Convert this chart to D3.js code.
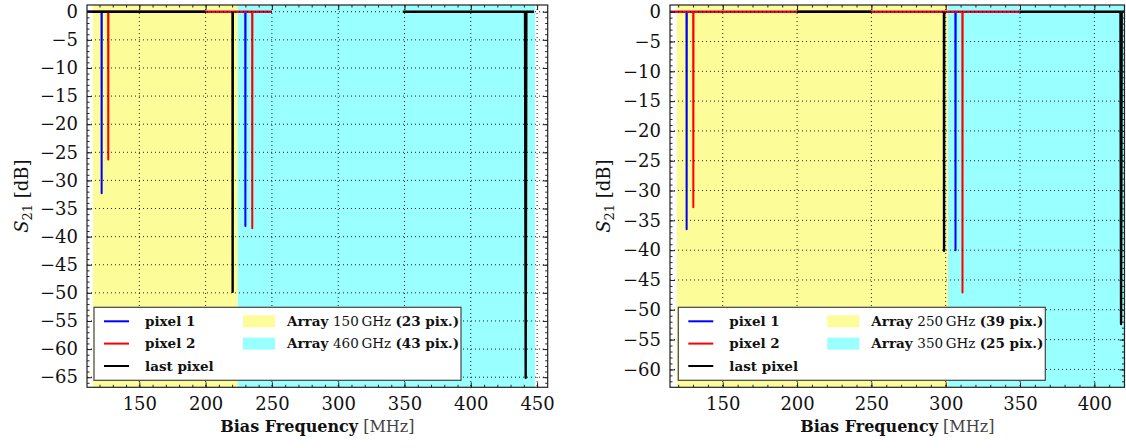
<!DOCTYPE html>
<html>
<head>
<meta charset="utf-8">
<script src="https://cdn.jsdelivr.net/npm/d3@7"></script>
<style>
  body { margin: 0; background: #fff; }
  svg { display: block; }
  text { font-family: "DejaVu Serif", serif; fill: #111; }
</style>
</head>
<body>
<svg width="1126" height="448"></svg>
<script>
// ---- data: left panel (150 GHz / 460 GHz arrays) ----
var leftXTicks = [150, 200, 250, 300, 350, 400, 450];
var leftYTicks = [0, -5, -10, -15, -20, -25, -30, -35, -40, -45, -50, -55, -60, -65];
var leftBands = [[115.1, 224.2], [224.2, 448.4]];
var leftPixel1 = [[108, 0], [121.5, 0], [121.6, -32.3], [121.7, 0], [229.9, 0], [230.0, -38.1], [230.1, 0], [250, 0]];
var leftPixel2 = [[108, 0], [126.5, 0], [126.6, -26.3], [126.7, 0], [235.1, 0], [235.2, -38.5], [235.3, 0], [250, 0]];
var leftLast = [[108, 0], [200, 0], null, [220.3, 0], [220.4, -49.8], [220.5, 0], null,
                [348.7, 0], [440.9, 0], [441.4, -65.1], [441.9, 0], [447.7, 0]];
var leftArrays = [["150", "23"], ["460", "43"]];

// ---- data: right panel (250 GHz / 350 GHz arrays) ----
var rightXTicks = [150, 200, 250, 300, 350, 400];
var rightYTicks = [0, -5, -10, -15, -20, -25, -30, -35, -40, -45, -50, -55, -60];
var rightBands = [[119.0, 301.5], [301.5, 425]];
var rightPixel1 = [[112, 0], [125.6, 0], [125.7, -36.5], [125.8, 0], [306.5, 0], [306.6, -40.0], [306.7, 0], [350, 0]];
var rightPixel2 = [[112, 0], [130.1, 0], [130.2, -32.8], [130.3, 0], [311.2, 0], [311.3, -47.1], [311.4, 0], [350, 0]];
var rightLast = [[200, 0], [250, 0], null, [298.8, 0], [298.9, -40.1], [299.0, 0], null,
                 [350, 0], [417.6, 0], [418.0, -52.4], [418.4, 0], [425, 0]];
var rightArrays = [["250", "39"], ["350", "25"]];

var pixelNames = ["pixel 1", "pixel 2", "last pixel"];
var pixelColors = ["#0000ff", "#ff0000", "#000000"];
var bandColors = ["#fcfc99", "#99ffff"];

var svg = d3.select("svg");

drawPanel({
    id: "l", left: 87, right: 547.7, top: 5, bottom: 387.3,
    xDomain: [110.55, 458.0], yDomain: [-66.8, 1.2],
    xTicks: leftXTicks, yTicks: leftYTicks, bands: leftBands,
    series: [leftPixel1, leftPixel2, leftLast], arrays: leftArrays,
    legendX: 94, legendY: 307.3, ylabelX: 28
});
drawPanel({
    id: "r", left: 670, right: 1124.5, top: 5, bottom: 387.3,
    xDomain: [114.5, 420.3], yDomain: [-63.0, 1.12],
    xTicks: rightXTicks, yTicks: rightYTicks, bands: rightBands,
    series: [rightPixel1, rightPixel2, rightLast], arrays: rightArrays,
    legendX: 678.3, legendY: 307.3, ylabelX: 610
});

function drawPanel(p) {
    var x = d3.scaleLinear().domain(p.xDomain).range([p.left, p.right]);
    var y = d3.scaleLinear().domain(p.yDomain).range([p.bottom, p.top]);
    var g = svg.append("g");

    svg.append("clipPath").attr("id", "clip-" + p.id)
        .append("rect")
        .attr("x", p.left).attr("y", p.top)
        .attr("width", p.right - p.left).attr("height", p.bottom - p.top);

    var plot = g.append("g").attr("clip-path", "url(#clip-" + p.id + ")");

    // shaded array regions
    plot.selectAll("rect.band")
        .data(p.bands)
        .enter()
        .append("rect")
        .attr("x", function(d){ return x(d[0]); })
        .attr("y", p.top)
        .attr("width", function(d){ return x(d[1]) - x(d[0]); })
        .attr("height", p.bottom - p.top)
        .attr("fill", function(d, i){ return bandColors[i]; });

    // S21 traces
    var line = d3.line()
        .defined(function(d){ return d !== null; })
        .x(function(d){ return x(d[0]); })
        .y(function(d){ return y(d[1]); });

    p.series.forEach(function(s, i){
        plot.append("path")
            .datum(s)
            .attr("fill", "none")
            .attr("stroke", pixelColors[i])
            .attr("stroke-width", i == 2 ? 2.4 : 2)
            .attr("stroke-linejoin", "round")
            .attr("d", line);
    });

    // dotted grid
    var grid = g.append("g")
        .attr("stroke", "#000")
        .attr("stroke-width", 1)
        .attr("stroke-dasharray", "1,3")
        .attr("opacity", 0.85);
    grid.selectAll("line.gx").data(p.xTicks).enter().append("line")
        .attr("x1", function(d){ return x(d); }).attr("x2", function(d){ return x(d); })
        .attr("y1", p.top).attr("y2", p.bottom);
    grid.selectAll("line.gy").data(p.yTicks).enter().append("line")
        .attr("y1", function(d){ return y(d); }).attr("y2", function(d){ return y(d); })
        .attr("x1", p.left).attr("x2", p.right);

    // ticks on all four sides, pointing inward
    var xMinor = d3.range(120, p.xDomain[1], 10);
    var yMinor = d3.range(0, p.yDomain[0], -1);
    var axisB = d3.axisBottom(x).tickValues(p.xTicks).tickSize(-5).tickPadding(10)
        .tickFormat(d3.format("d"));
    var axisBm = d3.axisBottom(x).tickValues(xMinor).tickSize(-2.5).tickFormat("");
    var axisT = d3.axisTop(x).tickValues(p.xTicks).tickSize(-5).tickFormat("");
    var axisTm = d3.axisTop(x).tickValues(xMinor).tickSize(-2.5).tickFormat("");
    var axisL = d3.axisLeft(y).tickValues(p.yTicks).tickSize(-5).tickPadding(9)
        .tickFormat(function(d){ return d < 0 ? "\u2212" + Math.abs(d) : d; });
    var axisLm = d3.axisLeft(y).tickValues(yMinor).tickSize(-2.5).tickFormat("");
    var axisR = d3.axisRight(y).tickValues(p.yTicks).tickSize(-5).tickFormat("");
    var axisRm = d3.axisRight(y).tickValues(yMinor).tickSize(-2.5).tickFormat("");

    [[axisB, "translate(0," + p.bottom + ")"], [axisBm, "translate(0," + p.bottom + ")"],
     [axisT, "translate(0," + p.top + ")"], [axisTm, "translate(0," + p.top + ")"],
     [axisL, "translate(" + p.left + ",0)"], [axisLm, "translate(" + p.left + ",0)"],
     [axisR, "translate(" + p.right + ",0)"], [axisRm, "translate(" + p.right + ",0)"]]
    .forEach(function(a){
        var ax = g.append("g").attr("transform", a[1]).call(a[0]);
        ax.attr("font-family", null);
        ax.select(".domain").remove();
        ax.selectAll("line").attr("stroke", "#222").attr("stroke-width", 1);
        ax.selectAll("text").attr("font-size", 18).attr("fill", "#333")
            .style("font-family", '"DejaVu Serif", serif');
    });

    g.append("rect")
        .attr("x", p.left).attr("y", p.top)
        .attr("width", p.right - p.left).attr("height", p.bottom - p.top)
        .attr("fill", "none").attr("stroke", "#222").attr("stroke-width", 1.2);

    // axis labels
    var xl = g.append("text")
        .attr("x", (p.left + p.right) / 2)
        .attr("y", 432)
        .attr("text-anchor", "middle")
        .attr("font-size", 16);
    xl.append("tspan").attr("font-weight", "bold").text("Bias Frequency");
    xl.append("tspan").attr("fill", "#444").text(" [MHz]");

    var yl = g.append("text")
        .attr("transform", "translate(" + p.ylabelX + "," + ((p.top + p.bottom) / 2) + ") rotate(-90)")
        .attr("text-anchor", "middle")
        .attr("font-size", 18);
    yl.append("tspan").attr("font-style", "italic").text("S");
    yl.append("tspan").attr("font-size", 13).attr("dy", 4).text("21");
    yl.append("tspan").attr("dy", -4).text(" [dB]");

    // legend
    var lg = g.append("g").attr("transform", "translate(" + p.legendX + "," + p.legendY + ")");
    lg.append("rect")
        .attr("width", 367).attr("height", 73)
        .attr("fill", "#fff").attr("stroke", "#444").attr("stroke-width", 1.2);

    var rows = [14, 36.3, 58.7];
    pixelNames.forEach(function(name, i){
        lg.append("line")
            .attr("x1", 10).attr("x2", 35)
            .attr("y1", rows[i]).attr("y2", rows[i])
            .attr("stroke", pixelColors[i]).attr("stroke-width", 2);
        lg.append("text")
            .attr("x", 51).attr("y", rows[i]).attr("dy", "0.35em")
            .attr("font-size", 13.5).attr("font-weight", "bold")
            .text(name);
    });
    p.arrays.forEach(function(a, i){
        lg.append("rect")
            .attr("x", 149).attr("y", rows[i] - 6)
            .attr("width", 32).attr("height", 12)
            .attr("fill", bandColors[i]);
        var t = lg.append("text")
            .attr("x", 193).attr("y", rows[i]).attr("dy", "0.35em")
            .attr("font-size", 13.5);
        t.append("tspan").attr("font-weight", "bold").text("Array ");
        t.append("tspan").text(a[0] + "\u2009GHz ");
        t.append("tspan").attr("font-weight", "bold").text("(" + a[1] + " pix.)");
    });
}
</script>
</body>
</html>
